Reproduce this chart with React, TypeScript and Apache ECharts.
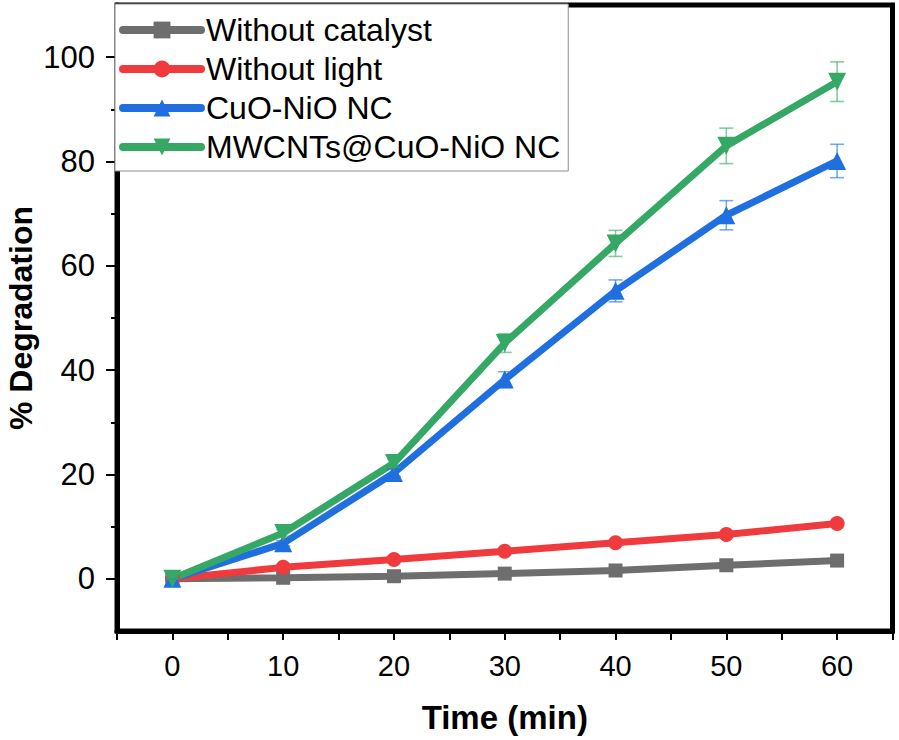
import React, { useEffect, useRef } from "react";
import * as echarts from "echarts";

const times = [0, 10, 20, 30, 40, 50, 60];
const withoutCatalyst = [0, 0.2, 0.5, 1.0, 1.6, 2.6, 3.5];
const withoutLight = [0, 2.2, 3.7, 5.3, 6.9, 8.5, 10.6];
const cuoNio = [0, 6.8, 20.3, 38.2, 55.2, 69.7, 80.1];
const mwcnts = [0, 8.8, 22.2, 45.2, 64.3, 83.0, 95.3];
const cuoNioErr = [0, 0.5, 0.7, 1.5, 2.1, 2.8, 3.2];
const mwcntsErr = [0, 0.6, 0.8, 1.8, 2.5, 3.4, 3.8];

const seriesNames = ["Without catalyst", "Without light", "CuO-NiO NC", "MWCNTs@CuO-NiO NC"];
const xLabelValues = [0, 10, 20, 30, 40, 50, 60];
const yLabelValues = [0, 20, 40, 60, 80, 100];
const yMinorValues = [10, 30, 50, 70, 90];

const FONT = "Arial, 'Liberation Sans', sans-serif";
const GRAY = "#6e6e6e";
const RED = "#ef3b3e";
const BLUE = "#1f6fe0";
const GREEN = "#36a865";

function pairs(ys: number[]) {
  return times.map((t, i) => [t, ys[i]]);
}

function errData(ys: number[], es: number[]) {
  return times.map((t, i) => [t, ys[i] - es[i], ys[i] + es[i]]);
}

function errSeries(ys: number[], es: number[], color: string) {
  return {
    type: "custom",
    z: 5,
    silent: true,
    data: errData(ys, es),
    renderItem: (params: any, api: any) => {
      const x = api.value(0);
      const lo = api.coord([x, api.value(1)]);
      const hi = api.coord([x, api.value(2)]);
      const w = 7;
      const style = { stroke: color, lineWidth: 1.6 };
      return {
        type: "group",
        children: [
          { type: "line", shape: { x1: lo[0], y1: lo[1], x2: hi[0], y2: hi[1] }, style },
          { type: "line", shape: { x1: lo[0] - w, y1: lo[1], x2: lo[0] + w, y2: lo[1] }, style },
          { type: "line", shape: { x1: hi[0] - w, y1: hi[1], x2: hi[0] + w, y2: hi[1] }, style },
        ],
      };
    },
  };
}

function lineSeries(name: string, ys: number[], color: string, symbol: string, size: number, rotate = 0) {
  return {
    name,
    type: "line",
    data: pairs(ys),
    symbol,
    symbolSize: size,
    symbolRotate: rotate,
    showAllSymbol: true,
    lineStyle: { color, width: 7 },
    itemStyle: { color, borderWidth: 0 },
    z: 3,
  };
}

export default function App() {
  const ref = useRef<HTMLDivElement>(null);
  useEffect(() => {
    if (!ref.current) return;
    const chart = echarts.init(ref.current, null, { renderer: "svg" });
    const labelStyle = { color: "#000", fontFamily: FONT };
    chart.setOption({
      animation: false,
      backgroundColor: "#fff",
      textStyle: { fontFamily: FONT },
      grid: {
        left: 117,
        top: 5,
        width: 775.5,
        height: 626,
        show: true,
        borderColor: "#000",
        borderWidth: 5,
        backgroundColor: "transparent",
        containLabel: false,
        outerBoundsMode: "none",
      },
      legend: {
        orient: "vertical",
        left: 115,
        top: 4,
        padding: [10, 8, 8, 4],
        itemGap: 7,
        itemWidth: 78,
        itemHeight: 21,
        backgroundColor: "#fff",
        borderColor: "#8c8c8c",
        borderWidth: 1,
        data: seriesNames,
        lineStyle: { width: 8, cap: "round" },
        textStyle: { fontSize: 32, lineHeight: 32, color: "#000", fontFamily: FONT },
        z: 10,
      },
      xAxis: [
        {
          type: "value",
          min: -5,
          max: 65,
          interval: 5,
          name: "Time (min)",
          nameLocation: "middle",
          nameGap: 70,
          nameMoveOverlap: false,
          nameTextStyle: { fontSize: 33, fontWeight: "bold", color: "#000", fontFamily: FONT },
          axisLine: { show: true, onZero: false, lineStyle: { color: "#000", width: 5 } },
          axisTick: { show: true, inside: false, length: 9, lineStyle: { color: "#000", width: 2 } },
          axisLabel: {
            ...labelStyle,
            fontSize: 29,
            margin: 20,
            customValues: xLabelValues,
            formatter: (v: number) => String(v),
          },
          splitLine: { show: false },
        },
      ],
      yAxis: [
        {
          type: "value",
          min: -10,
          max: 110,
          interval: 10,
          name: "% Degradation",
          nameLocation: "middle",
          nameGap: 80,
          nameMoveOverlap: false,
          nameTextStyle: {
            fontSize: 32,
            lineHeight: 32,
            fontWeight: "bold",
            color: "#000",
            fontFamily: FONT,
          },
          axisLine: { show: true, onZero: false, lineStyle: { color: "#000", width: 5 } },
          axisTick: {
            show: true,
            inside: false,
            length: 11,
            customValues: yLabelValues,
            lineStyle: { color: "#000", width: 2 },
          },
          axisLabel: {
            ...labelStyle,
            fontSize: 31,
            margin: 22,
            customValues: yLabelValues,
            formatter: (v: number) => String(v),
          },
          splitLine: { show: false },
        },
        {
          type: "value",
          min: -10,
          max: 110,
          interval: 10,
          position: "left",
          axisLine: { show: false, onZero: false },
          axisTick: {
            show: true,
            inside: false,
            length: 6,
            customValues: yMinorValues,
            lineStyle: { color: "#000", width: 2 },
          },
          axisLabel: { show: false },
          splitLine: { show: false },
        },
      ],
      series: [
        lineSeries(seriesNames[0], withoutCatalyst, GRAY, "rect", 14),
        lineSeries(seriesNames[1], withoutLight, RED, "circle", 15),
        lineSeries(seriesNames[2], cuoNio, BLUE, "triangle", 18),
        lineSeries(seriesNames[3], mwcnts, GREEN, "triangle", 18, 180),
        errSeries(cuoNio, cuoNioErr, "rgba(31,111,224,0.6)"),
        errSeries(mwcnts, mwcntsErr, "rgba(54,168,101,0.6)"),
      ],
    });
    return () => chart.dispose();
  }, []);
  return (
    <div
      ref={ref}
      style={{ position: "fixed", left: 0, top: 0, width: 899, height: 740, background: "#fff" }}
    />
  );
}
